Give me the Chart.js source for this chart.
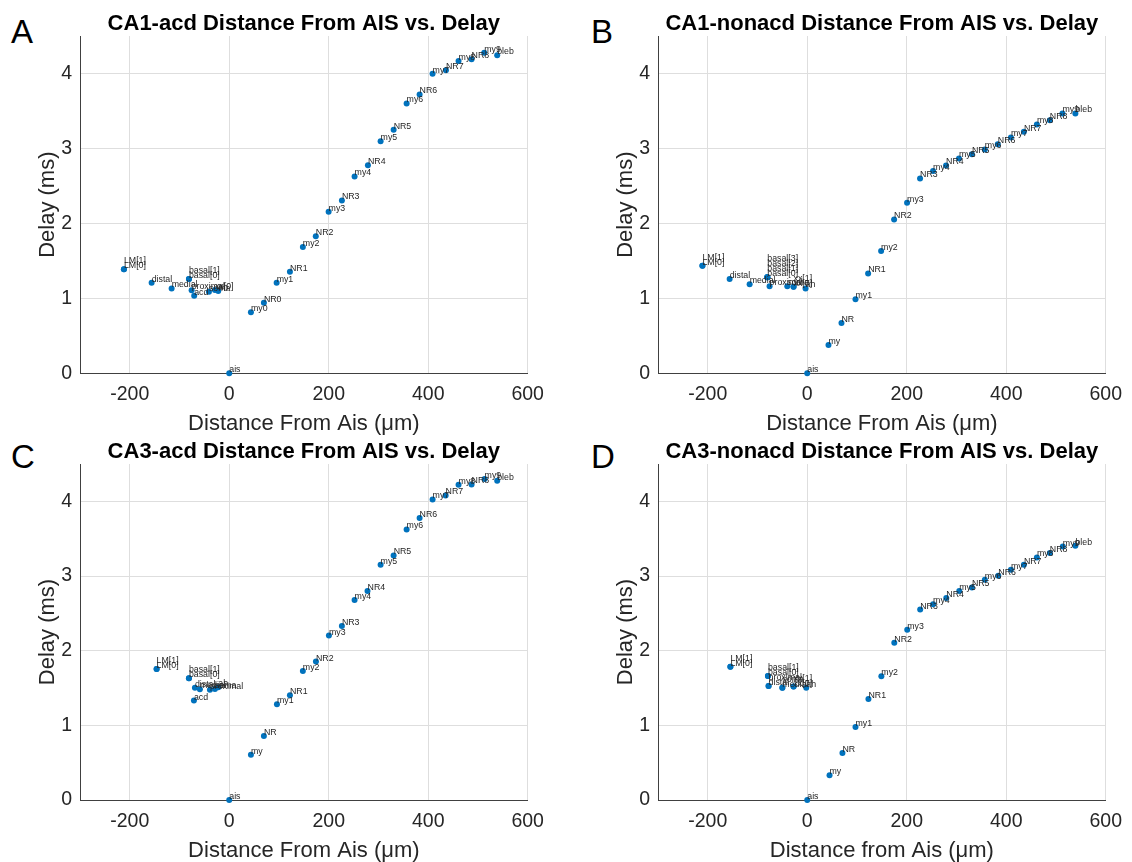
<!DOCTYPE html>
<html>
<head>
<meta charset="utf-8">
<script src="https://cdn.jsdelivr.net/npm/chart.js@4/dist/chart.umd.min.js"></script>
<style>
  html,body{margin:0;padding:0;background:#fff;}
  body{width:1132px;height:862px;position:relative;overflow:hidden;font-family:"Liberation Sans",Arial,Helvetica,sans-serif;}
  canvas{position:absolute;left:0;top:0;}
  .letter{position:absolute;font-size:33px;line-height:33px;color:#000;}
</style>
</head>
<body>
<div class="letter" style="left:11px;top:15px;">A</div>
<div class="letter" style="left:591px;top:15px;">B</div>
<div class="letter" style="left:11px;top:440px;">C</div>
<div class="letter" style="left:591px;top:440px;">D</div>
<canvas id="cA" width="1132" height="862"></canvas>
<canvas id="cB" width="1132" height="862"></canvas>
<canvas id="cC" width="1132" height="862"></canvas>
<canvas id="cD" width="1132" height="862"></canvas>
<script>
// ---------- data ----------
const xTicks = [-200, 0, 200, 400, 600];
const yTicks = [0, 1, 2, 3, 4];

// Panel A : CA1-acd
const namesA = ['LM[0]','LM[1]','distal','medial','basal[0]','basal[1]','proximal','acd','soma','xx[0]','ah',
  'ais','my0','NR0','my1','NR1','my2','NR2','my3','NR3','my4','NR4','my5','NR5','my6','NR6','my7','NR7','my8','NR8','my9','bleb'];
const distA = [-211.7,-211.7,-156,-115.8,-81,-81,-75.6,-70.4,-40.8,-28.7,-22.1,
  0,43.6,69.7,95.3,122,148,174,199.8,226.5,252,278.8,304.3,330.5,356.6,382.7,408.8,435.6,461,487.2,512.6,538.7];
const delayA = [1.387,1.387,1.208,1.133,1.257,1.257,1.107,1.035,1.088,1.11,1.097,
  0,0.813,0.941,1.208,1.355,1.684,1.83,2.155,2.307,2.627,2.777,3.097,3.248,3.6,3.72,3.995,4.044,4.168,4.19,4.275,4.244];

// Panel B : CA1-nonacd
const namesB = ['LM[0]','LM[1]','distal','medial','basal[0]','basal[1]','basal[2]','basal[3]','proximal','soma','xx[0]','xx[1]','ah',
  'ais','my','NR','my1','NR1','my2','NR2','my3','NR3','my4','NR4','my5','NR5','my6','NR6','my7','NR7','my8','NR8','my9','bleb'];
const distB = [-210.7,-210.7,-156,-115.8,-80.3,-80.3,-80.3,-80.3,-75.7,-40.1,-27.5,-27.5,-3.4,
  0,42.7,68.8,97,122.4,148.5,174.6,200.7,226.8,252.9,279,305,331,357,383,409.4,435.5,461.6,487.7,513,539];
const delayB = [1.435,1.435,1.257,1.187,1.28,1.28,1.28,1.28,1.16,1.16,1.155,1.155,1.133,
  0,0.377,0.67,0.987,1.333,1.63,2.053,2.275,2.6,2.70,2.773,2.867,2.924,2.987,3.057,3.147,3.221,3.32,3.377,3.467,3.467];

// Panel C : CA3-acd
const namesC = ['LM[0]','LM[1]','basal[0]','basal[1]','distal','medial','proximal','soma','ah','acd',
  'ais','my','NR','my1','NR1','my2','NR2','my3','NR3','my4','NR4','my5','NR5','my6','NR6','my7','NR7','my8','NR8','my9','bleb'];
const distC = [-146,-146,-81,-81,-69,-59,-38.8,-28.7,-22,-71,
  0,43.6,69.7,95.9,122,148,174.3,200.4,226.5,252,278,304.3,330.5,356.6,382.7,408.8,435,461,487.2,513.4,538.7];
const delayC = [1.756,1.756,1.631,1.631,1.505,1.484,1.475,1.488,1.511,1.331,
  0,0.607,0.858,1.283,1.403,1.729,1.854,2.202,2.332,2.677,2.80,3.15,3.275,3.623,3.776,4.025,4.079,4.222,4.226,4.299,4.276];

// Panel D : CA3-nonacd
const namesD = ['LM[0]','LM[1]','basal[0]','basal[1]','distal','proximal','medial','soma','xx[0]','xx[1]','ah',
  'ais','my','NR','my1','NR1','my2','NR2','my3','NR3','my4','NR4','my5','NR5','my6','NR6','my7','NR7','my8','NR8','my9','bleb'];
const distD = [-154.5,-154.5,-79,-79,-77.7,-77.7,-50,-50,-27.5,-27.5,-2,
  0,44.8,70.8,97,123,149,175,201,227,253,279.5,305.6,331,357,384,409.4,435.5,461.6,487.7,513.7,539];
const delayD = [1.783,1.783,1.662,1.662,1.528,1.528,1.505,1.505,1.519,1.519,1.505,
  0,0.331,0.63,0.979,1.354,1.658,2.105,2.279,2.551,2.623,2.704,2.80,2.846,2.949,3.003,3.083,3.15,3.248,3.307,3.395,3.405];

// ---------- drawing ----------
const FONT = '"Liberation Sans", Arial, Helvetica, sans-serif';
const BLUE = '#0072BD';

const pointLabels = {
  id: 'pointLabels',
  afterDatasetsDraw(chart) {
    const ctx = chart.ctx;
    const ds = chart.data.datasets[0];
    const meta = chart.getDatasetMeta(0);
    ctx.save();
    ctx.font = '8.8px ' + FONT;
    ctx.fillStyle = '#262626';
    ctx.textAlign = 'left';
    ctx.textBaseline = 'alphabetic';
    const placed = [];
    meta.data.forEach((el, i) => {
      const x = el.x, y = el.y;
      const n = placed.filter(p => Math.abs(p.x - x) < 1.5 && Math.abs(p.y - y) < 1.5).length;
      placed.push({x, y});
      ctx.fillText(ds.names[i], x, y - 1 - n * 5);
    });
    ctx.restore();
  }
};

function build(id, title, xTitle, names, xs, ys, box) {
  const yw = 50, xh = 66, th = 24.2;
  return new Chart(document.getElementById(id), {
    type: 'scatter',
    data: {
      datasets: [{
        data: xs.map((x, i) => ({x: x, y: ys[i]})),
        names: names,
        backgroundColor: BLUE,
        borderColor: BLUE,
        borderWidth: 0,
        pointRadius: 3,
        pointHoverRadius: 3,
        clip: false
      }]
    },
    options: {
      responsive: false,
      animation: false,
      events: [],
      layout: {padding: {left: box.l - yw, right: 1132 - box.r, top: box.t - th, bottom: 862 - box.b - xh}},
      plugins: {
        legend: {display: false},
        tooltip: {enabled: false},
        title: {
          display: true, text: title, fullSize: false, color: '#000',
          font: {family: FONT, size: 22, weight: 'bold', lineHeight: 1.1},
          padding: {top: 0, bottom: 0}
        }
      },
      scales: {
        x: {
          type: 'linear', min: -300, max: 600,
          afterBuildTicks: s => { s.ticks = xTicks.map(v => ({value: v})); },
          afterFit: s => { s.height = xh; },
          grid: {color: '#dedede', drawTicks: false},
          border: {color: '#404040', width: 1},
          ticks: {color: '#262626', font: {family: FONT, size: 19.5}, padding: 10, maxRotation: 0, autoSkip: false,
                  callback: v => String(v)},
          title: {display: true, text: xTitle, color: '#262626', font: {family: FONT, size: 22}, padding: {top: 0, bottom: 2}}
        },
        y: {
          type: 'linear', min: 0, max: 4.5,
          afterBuildTicks: s => { s.ticks = yTicks.map(v => ({value: v})); },
          afterFit: s => { s.width = yw; },
          grid: {color: '#dedede', drawTicks: false},
          border: {color: '#404040', width: 1},
          ticks: {color: '#262626', font: {family: FONT, size: 19.5}, padding: 8, callback: v => String(v)},
          title: {display: true, text: 'Delay (ms)', color: '#262626', font: {family: FONT, size: 22}, padding: {top: 4.5, bottom: 0}}
        }
      }
    },
    plugins: [pointLabels]
  });
}

build('cA', 'CA1-acd Distance From AIS vs. Delay', 'Distance From Ais (\u03bcm)', namesA, distA, delayA,
      {l: 80, r: 527.7, t: 36, b: 373.3});
build('cB', 'CA1-nonacd Distance From AIS vs. Delay', 'Distance From Ais (\u03bcm)', namesB, distB, delayB,
      {l: 658, r: 1106.7, t: 36, b: 373.3});
build('cC', 'CA3-acd Distance From AIS vs. Delay', 'Distance From Ais (\u03bcm)', namesC, distC, delayC,
      {l: 80, r: 527.7, t: 464, b: 800});
build('cD', 'CA3-nonacd Distance From AIS vs. Delay', 'Distance from Ais (\u03bcm)', namesD, distD, delayD,
      {l: 658, r: 1106.7, t: 464, b: 800});
</script>
</body>
</html>
